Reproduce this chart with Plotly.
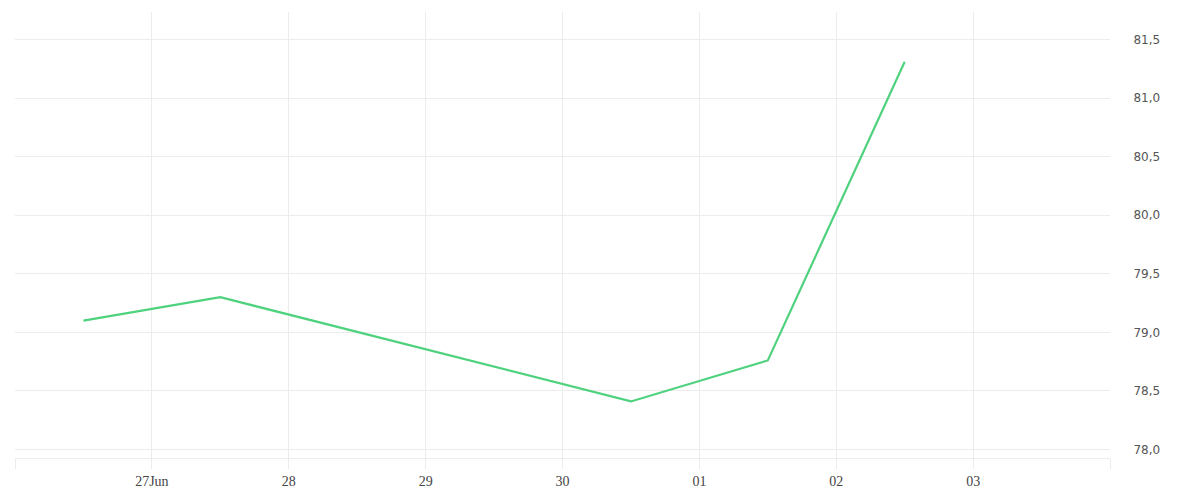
import plotly.graph_objects as go

dates = ["2024-06-26 12:00", "2024-06-27 12:00", "2024-06-30 12:00",
         "2024-07-01 12:00", "2024-07-02 12:00"]
values = [79.10, 79.30, 78.41, 78.76, 81.31]

tick_dates = ["2024-06-26", "2024-06-27", "2024-06-28", "2024-06-29", "2024-06-30",
              "2024-07-01", "2024-07-02", "2024-07-03", "2024-07-04"]
tick_labels = ["", "27Jun", "28", "29", "30", "01", "02", "03", ""]

grid = "#ececec"

fig = go.Figure()
fig.add_trace(go.Scatter(
    x=dates, y=values, mode="lines",
    line=dict(color="#4fd27e", width=2.2),
    hoverinfo="x+y",
))

fig.update_layout(
    width=1200, height=500,
    margin=dict(l=7, r=98, t=4, b=50),
    paper_bgcolor="white", plot_bgcolor="white",
    showlegend=False,
    separators=",.",
    xaxis=dict(
        range=["2024-06-26", "2024-07-04"],
        tickvals=tick_dates, ticktext=tick_labels,
        showgrid=True, gridcolor=grid, gridwidth=1,
        ticks="outside", ticklen=10, tickcolor=grid, tickwidth=1,
        showline=True, linecolor=grid, linewidth=1,
        zeroline=False,
        tickfont=dict(family="Liberation Serif, serif", size=14, color="#444"),
    ),
    yaxis=dict(
        side="right",
        range=[77.927, 81.735],
        dtick=0.5, tick0=78, tickformat=".1f",
        showgrid=True, gridcolor=grid, gridwidth=1,
        ticks="outside", ticklen=20, tickcolor="rgba(0,0,0,0)",
        showline=False, zeroline=False,
        tickfont=dict(family="DejaVu Sans, sans-serif", size=12, color="#555"),
    ),
)

fig.write_html("out.html")
